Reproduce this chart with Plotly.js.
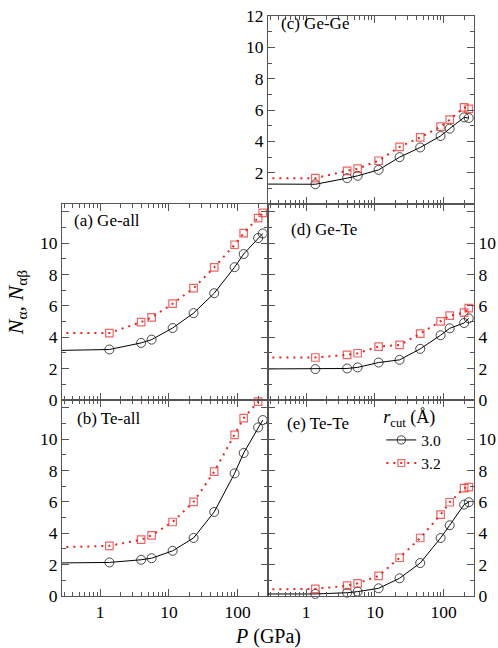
<!DOCTYPE html>
<html><head><meta charset="utf-8">
<script src="https://cdn.plot.ly/plotly-3.0.1.min.js"></script>
<style>html,body{margin:0;padding:0;background:#fff}</style>
</head><body><div id="chart" style="width:498px;height:648px"></div>
<script>
// Pressure (GPa); first entry = ambient-pressure value, drawn off the left edge of the log axis
const pressure = [0.1, 1.36, 3.94, 5.6, 11.3, 22.8, 45.5, 90, 122, 198, 231];

// r_cut = 3.0 Å (black) and 3.2 Å (red) coordination numbers
const geAll30 = [3.13, 3.22, 3.64, 3.85, 4.59, 5.54, 6.81, 8.47, 9.31, 10.33, 10.62];
const geAll32 = [4.27, 4.27, 4.97, 5.27, 6.14, 7.13, 8.46, 9.90, 10.64, 11.60, 11.94];
const teAll30 = [2.09, 2.14, 2.31, 2.41, 2.88, 3.70, 5.36, 7.82, 9.12, 10.75, 11.22];
const teAll32 = [3.06, 3.20, 3.59, 3.87, 4.72, 6.00, 7.93, 10.28, 11.35, 12.40, null];
const geGe30  = [1.28, 1.26, 1.65, 1.80, 2.18, 2.99, 3.61, 4.34, 4.81, 5.53, 5.49];
const geGe32  = [1.65, 1.65, 2.12, 2.26, 2.76, 3.65, 4.25, 4.94, 5.38, 6.17, 6.07];
const geTe30  = [1.97, 1.97, 2.01, 2.08, 2.39, 2.56, 3.26, 4.13, 4.57, 4.91, 5.21];
const geTe32  = [2.70, 2.71, 2.88, 2.98, 3.41, 3.51, 4.23, 5.01, 5.38, 5.57, 5.86];
const teTe30  = [0.13, 0.13, 0.21, 0.28, 0.49, 1.13, 2.10, 3.70, 4.51, 5.83, 5.98];
const teTe32  = [0.41, 0.45, 0.66, 0.81, 1.28, 2.44, 3.70, 5.19, 5.98, 6.88, 6.94];

const seriesNames = ['3.0', '3.2'];
const panelLabels = ['(a) Ge-all', '(b) Te-all', '(c) Ge-Ge', '(d) Ge-Te', '(e) Te-Te'];
const xTickVals = [1, 10, 100];
const xTickText = ['1', '10', '100'];

const serif = 'Liberation Serif';
const frame = '#555555';
const red = 'rgb(235,35,35)';

const minorX = [];
[0.1, 1, 10, 100].forEach(d => { for (let k = 2; k <= 9; k++) minorX.push(k * d); });

function pair(xa, ya, y30, y32, legend) {
  const hideFirst = s => pressure.map((p, i) => i === 0 ? 0 : s);
  return [
    {x: pressure, y: y30, xaxis: xa, yaxis: ya, type: 'scatter', mode: 'lines+markers',
     name: seriesNames[0], showlegend: legend, cliponaxis: false,
     line: {color: '#000', width: 1},
     marker: {symbol: 'circle-open', size: hideFirst(9), color: '#000', line: {width: 1}}},
    {x: pressure, y: y32, xaxis: xa, yaxis: ya, type: 'scatter', mode: 'lines+markers',
     name: seriesNames[1], showlegend: legend, cliponaxis: false,
     line: {color: red, width: 2, dash: '2px,5px'},
     marker: {symbol: 'square-open', size: hideFirst(7.5), color: red, line: {width: 1.2}}}
  ];
}

const data = [].concat(
  pair('x', 'y', geAll30, geAll32, false),
  pair('x2', 'y2', teAll30, teAll32, false),
  pair('x3', 'y3', geGe30, geGe32, false),
  pair('x4', 'y4', geTe30, geTe32, false),
  pair('x5', 'y5', teTe30, teTe32, true)
);

const tickFont = {family: serif, size: 17.5, color: '#000'};

function xAxis(domain, anchor, labels) {
  return {type: 'log', domain: domain, anchor: anchor, range: [-0.555, 2.44],
    showline: true, linecolor: frame, linewidth: 1, mirror: 'allticks',
    ticks: 'inside', ticklen: 7, tickcolor: frame, tickwidth: 1,
    tickvals: xTickVals, ticktext: xTickText, showticklabels: labels, tickfont: tickFont,
    showgrid: false, zeroline: false,
    minor: {tickvals: minorX, ticks: 'inside', ticklen: 4, tickcolor: frame, tickwidth: 1, showgrid: false}};
}
function yAxis(domain, anchor, side, top, vals, text) {
  return {domain: domain, anchor: anchor, side: side, range: [0, top],
    showline: true, linecolor: frame, linewidth: 1, mirror: 'allticks',
    ticks: 'inside', ticklen: 7, tickcolor: frame, tickwidth: 1,
    tickvals: vals, ticktext: text, tickfont: tickFont,
    showgrid: false, zeroline: false,
    minor: {tickvals: [1, 3, 5, 7, 9, 11], ticks: 'inside', ticklen: 4, tickcolor: frame, tickwidth: 1, showgrid: false}};
}

const yVals = [0, 2, 4, 6, 8, 10, 12];
const yTextLow = ['0', '2', '4', '6', '8', '10', ''];
const yTextTop = ['', '2', '4', '6', '8', '10', '12'];

const rowB = [0, 196 / 580], rowM = [196 / 580, 392 / 580], rowT = [392 / 580, 1];
const colL = [0, 0.5], colR = [0.5, 1];

const yA = yAxis(rowM, 'x', 'left', 12.5, yVals, yTextLow);
yA.title = {text: '<i>N</i><sub>α</sub>, <i>N</i><sub>αβ</sub>', font: {family: serif, size: 22, color: '#000'}, standoff: 10};

const layout = {
  width: 498, height: 648,
  margin: {l: 62, r: 24, t: 16, b: 52},
  paper_bgcolor: '#fff', plot_bgcolor: 'rgba(0,0,0,0)',
  font: {family: serif, color: '#000'},
  xaxis: xAxis(colL, 'y', false),
  yaxis: yA,
  xaxis2: xAxis(colL, 'y2', true),
  yaxis2: yAxis(rowB, 'x2', 'left', 12.5, yVals, yTextLow),
  xaxis3: xAxis(colR, 'y3', false),
  yaxis3: yAxis(rowT, 'x3', 'left', 12, yVals, yTextTop),
  xaxis4: xAxis(colR, 'y4', false),
  yaxis4: yAxis(rowM, 'x4', 'right', 12.5, yVals, yTextLow),
  xaxis5: xAxis(colR, 'y5', true),
  yaxis5: yAxis(rowB, 'x5', 'right', 12.5, yVals, yTextLow),
  yaxis6: {overlaying: 'y3', anchor: 'x3', side: 'right', range: [0, 12], showline: false,
    ticks: '', tickvals: yVals, ticktext: yTextTop, tickfont: tickFont, showgrid: false, zeroline: false},
  showlegend: true,
  legend: {x: 0.775, xanchor: 'left', y: 0.338, yanchor: 'top', bgcolor: 'rgba(0,0,0,0)',
    font: {family: serif, size: 15.5, color: '#000'}, itemwidth: 30, tracegroupgap: 0,
    title: {text: '<i>r</i><sub>cut</sub> (Å)', font: {family: serif, size: 18, color: '#000'}}},
  annotations: [
    {text: panelLabels[0], xref: 'x domain', yref: 'y domain', x: 0, y: 1, xanchor: 'left', yanchor: 'middle', xshift: 10, yshift: -16, showarrow: false, font: {family: serif, size: 17}},
    {text: panelLabels[1], xref: 'x2 domain', yref: 'y2 domain', x: 0, y: 1, xanchor: 'left', yanchor: 'middle', xshift: 13, yshift: -18, showarrow: false, font: {family: serif, size: 17}},
    {text: panelLabels[2], xref: 'x3 domain', yref: 'y3 domain', x: 0, y: 1, xanchor: 'left', yanchor: 'middle', xshift: 11, yshift: -7, showarrow: false, font: {family: serif, size: 17}},
    {text: panelLabels[3], xref: 'x4 domain', yref: 'y4 domain', x: 0, y: 1, xanchor: 'left', yanchor: 'middle', xshift: 21, yshift: -25, showarrow: false, font: {family: serif, size: 17}},
    {text: panelLabels[4], xref: 'x5 domain', yref: 'y5 domain', x: 0, y: 1, xanchor: 'left', yanchor: 'middle', xshift: 17, yshift: -23, showarrow: false, font: {family: serif, size: 17}},
    {text: '<i>P</i> (GPa)', xref: 'paper', yref: 'paper', x: 0.5, y: -40 / 580, xanchor: 'center', yanchor: 'middle', borderpad: 0, showarrow: false, font: {family: serif, size: 20}}
  ]
};

Plotly.newPlot('chart', data, layout, {staticPlot: true, displayModeBar: false});
</script></body></html>
